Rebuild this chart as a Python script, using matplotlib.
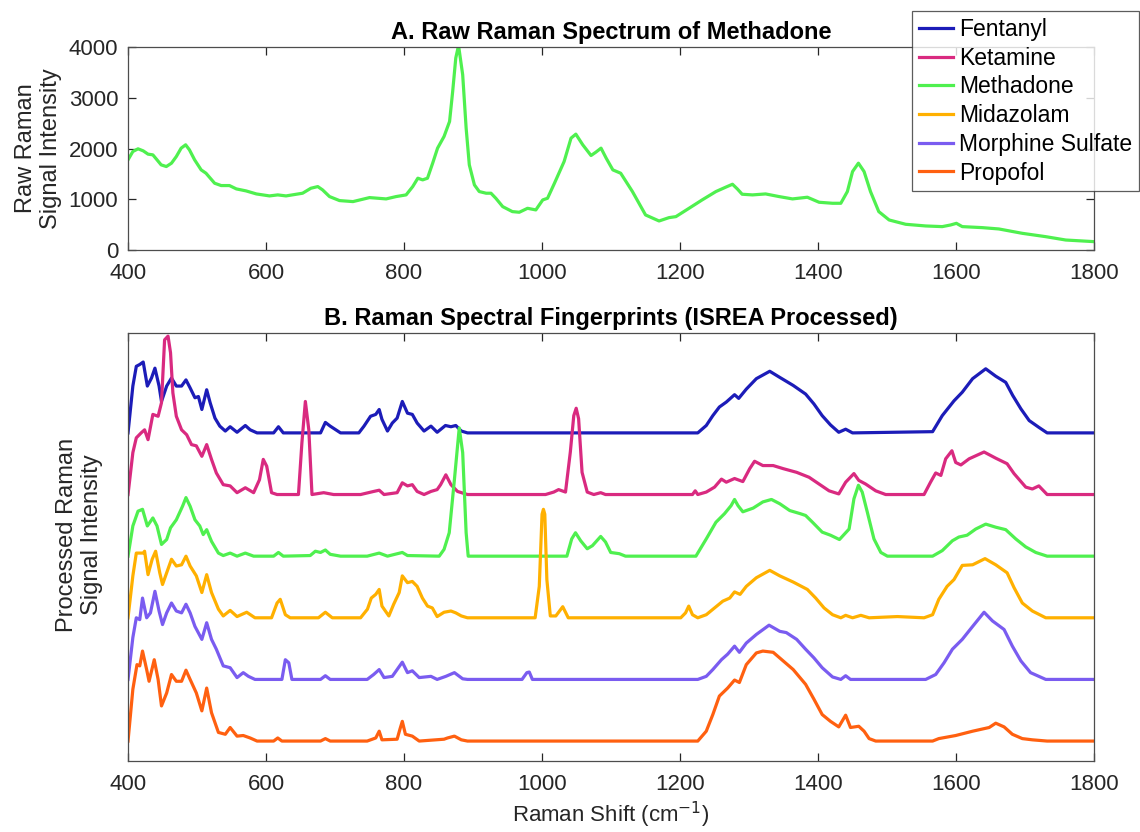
import numpy as np
import matplotlib
matplotlib.use("Agg")
import matplotlib.pyplot as plt

plt.rcParams['font.family'] = ['Liberation Sans', 'DejaVu Sans']

# raw methadone spectrum (panel A)
raw_x = [400, 407, 414.5, 422, 429, 436, 442, 448, 455.5, 463, 470, 477, 483.5, 489, 496.5,
         506, 513, 525.5, 535, 547, 557, 571, 586, 605, 617, 629, 653, 665, 675, 682, 692,
         706.5, 726, 740, 750, 762, 774, 788.5, 803, 812.6, 820, 827, 834, 841.5, 848.6, 858,
         866, 870.5, 875, 879, 885, 890, 894.6, 902, 909, 919, 926, 933, 943, 957, 967, 979,
         991, 1001, 1008, 1018, 1032, 1042, 1049, 1059, 1071, 1078, 1085.5, 1093, 1102.6, 1114,
         1131, 1150, 1169.6, 1184, 1194, 1213, 1232, 1252, 1266, 1276, 1283, 1290, 1305, 1324,
         1343.5, 1363, 1384.5, 1401.5, 1421, 1433, 1442.5, 1450, 1458.5, 1466.7, 1476, 1488,
         1503, 1527, 1556, 1580, 1592, 1600.5, 1609, 1638, 1662, 1696, 1730, 1759, 1800]
raw_y = [1777, 1941, 1994, 1954, 1889, 1875, 1777, 1678, 1645, 1711, 1842, 2007, 2073, 1974, 1777,
         1579, 1513, 1316, 1270, 1270, 1204, 1165, 1105, 1066, 1086, 1066, 1119, 1217, 1250, 1184, 1053,
         974, 954, 1000, 1033, 1020, 1007, 1053, 1086, 1250, 1415, 1382, 1415, 1711, 2007, 2237,
         2533, 3125, 3784, 4030, 3454, 2402, 1678, 1283, 1152, 1119, 1119, 1020, 855, 757, 744, 822,
         790, 987, 1020, 1316, 1744, 2204, 2283, 2073, 1862, 1928, 2007, 1809, 1579, 1513,
         1152, 691, 572, 638, 658, 822, 987, 1152, 1237, 1296, 1204, 1099, 1086, 1105,
         1053, 1007, 1040, 941, 921, 921, 1152, 1546, 1711, 1546, 1152, 757,
         592, 507, 474, 461, 493, 526, 461, 441, 415, 329, 263, 197, 165]

# processed fingerprints (panel B), height above each trace's own baseline
fent_x = [400, 407, 412, 417, 422, 428, 434, 439, 445, 448.5, 456, 463, 470, 477.6, 484, 490, 497,
          502, 507, 514, 519, 526, 533, 541, 548, 558, 570, 577, 587, 611, 618, 625, 679, 686, 693,
          708, 734.5, 742, 751.5, 759, 764, 768, 776, 783, 790, 797.5, 805, 812, 819, 829, 839, 848,
          860, 868, 875, 883, 892, 1225.7, 1238, 1247.5, 1257, 1267, 1279, 1285, 1296, 1310.6, 1330,
          1344.6, 1364, 1382, 1394, 1406, 1418, 1430, 1440, 1450, 1566, 1580, 1597, 1609, 1624,
          1643, 1657.5, 1672, 1682, 1694, 1706, 1720, 1732, 1800]
fent_y = [0, 0.76, 1.08, 1.11, 1.15, 0.76, 0.89, 1.05, 0.76, 0.51, 0.76, 0.89, 0.76, 0.76, 0.86, 0.73, 0.57,
          0.59, 0.38, 0.70, 0.49, 0.24, 0.11, 0.03, 0.10, 0.01, 0.12, 0.05, 0, 0, 0.10, 0, 0, 0.17, 0.11,
          0, 0, 0.11, 0.27, 0.30, 0.38, 0.22, 0.03, 0.16, 0.24, 0.51, 0.32, 0.30, 0.16, 0.03, 0.11, 0.01,
          0.12, 0.10, 0.12, 0.03, 0, 0, 0.12, 0.28, 0.42, 0.50, 0.62, 0.56, 0.71, 0.88, 1.0,
          0.90, 0.77, 0.63, 0.47, 0.28, 0.13, 0.01, 0.06, 0, 0.02, 0.28, 0.52, 0.66, 0.88,
          1.04, 0.92, 0.82, 0.61, 0.39, 0.20, 0.09, 0, 0]

keta_x = [400, 407, 412, 419, 424, 429, 436, 443.6, 448.5, 453, 458, 461.6, 465, 470, 477.6, 485, 492,
          499, 507, 514, 521, 528, 538, 548, 558, 570, 582, 590.5, 596, 601, 608, 616, 647, 652, 657,
          662, 666.6, 683.6, 698, 737, 756, 764, 771, 790, 797.5, 805, 812, 819, 829, 839, 848, 853,
          860.6, 868, 877.5, 892, 1005, 1017, 1024, 1034, 1041, 1046, 1049.5, 1053, 1058, 1065.5, 1075,
          1085, 1092, 1218, 1222, 1225.7, 1238, 1250, 1260, 1267, 1279, 1291, 1301, 1308, 1320, 1335,
          1349.5, 1369, 1387, 1401.5, 1416, 1430, 1440, 1452, 1459, 1469, 1483.6, 1498, 1553.6, 1563,
          1570.5, 1578, 1585, 1594, 1599.5, 1607, 1619, 1640.6, 1657.5, 1674, 1684, 1701, 1710.6,
          1720, 1732, 1800]
keta_y = [0, 0.68, 0.92, 1.0, 1.05, 0.89, 1.30, 1.27, 1.49, 2.51, 2.57, 2.30, 1.65, 1.27, 1.05, 0.97, 0.81,
          0.79, 0.62, 0.81, 0.57, 0.35, 0.16, 0.14, 0.03, 0.11, 0.03, 0.24, 0.57, 0.46, 0.03, 0, 0, 0.84, 1.51,
          1.05, 0, 0.03, 0, 0, 0.05, 0.07, 0, 0.03, 0.19, 0.14, 0.16, 0.05, 0, 0.05, 0.08, 0.16,
          0.32, 0.16, 0.05, 0, 0, 0.04, 0.08, 0.04, 0.69, 1.28, 1.40, 1.23, 0.36, 0.04, 0,
          0.03, 0, 0, 0.06, 0, 0.04, 0.12, 0.25, 0.20, 0.26, 0.21, 0.42, 0.54, 0.47, 0.47,
          0.42, 0.36, 0.28, 0.17, 0.06, 0.01, 0.20, 0.34, 0.23, 0.17, 0.06, 0, 0, 0.20,
          0.35, 0.31, 0.58, 0.71, 0.52, 0.48, 0.58, 0.69, 0.59, 0.50, 0.34, 0.12, 0.09,
          0.14, 0, 0]

meth_x = [400, 407, 414.5, 421, 428, 436, 442, 448.5, 456, 461.6, 470, 479, 484, 490, 497, 504, 509,
          514, 521, 531, 538, 548, 558, 570, 582, 611, 618, 625, 664, 671.5, 679, 686, 693, 708, 746.6,
          764, 776, 797.5, 805, 851, 858, 865.5, 873, 880, 885, 890, 893, 1036, 1043, 1048.5, 1056,
          1065.5, 1073, 1085, 1092, 1099.5, 1112, 1121, 1223, 1238, 1252, 1264.5, 1274, 1279, 1284,
          1291, 1306, 1320, 1332.5, 1344.6, 1359, 1374, 1382, 1392, 1406, 1418, 1431, 1445, 1452,
          1458.5, 1464, 1471.5, 1481, 1491, 1500.5, 1566, 1580, 1594.7, 1604, 1616, 1628.5, 1643,
          1657.5, 1672, 1686.5, 1701, 1715.5, 1732, 1800]
meth_y = [0, 0.49, 0.73, 0.76, 0.49, 0.62, 0.49, 0.19, 0.27, 0.46, 0.59, 0.81, 0.95, 0.81, 0.59, 0.49, 0.35,
          0.43, 0.24, 0.05, 0.01, 0.05, 0, 0.05, 0, 0, 0.06, 0, 0.01, 0.08, 0.06, 0.10, 0.03, 0, 0,
          0.05, 0, 0.06, 0.01, 0, 0.11, 0.38, 1.24, 2.08, 1.68, 0.38, 0, 0, 0.28, 0.38, 0.25,
          0.12, 0.17, 0.32, 0.23, 0.06, 0.04, 0, 0, 0.28, 0.55, 0.69, 0.82, 0.92, 0.82,
          0.72, 0.78, 0.88, 0.92, 0.85, 0.74, 0.69, 0.66, 0.55, 0.39, 0.34, 0.27, 0.44, 0.93,
          1.15, 1.04, 0.71, 0.28, 0.06, 0, 0, 0.09, 0.25, 0.31, 0.34, 0.44, 0.52,
          0.47, 0.43, 0.28, 0.15, 0.06, 0, 0]

mida_x = [400, 407, 412, 417, 422, 424, 429, 435, 440, 446, 450, 456, 463, 470, 477.6, 484, 490, 499,
          507, 514, 521, 531, 538, 548, 558, 572, 584, 608, 616, 620.6, 628, 635, 676, 686, 696, 737,
          747, 752.5, 759, 764, 768, 778, 785, 793, 797.5, 805, 812, 819, 826.6, 834, 841, 848, 858,
          868, 875, 883, 892, 990, 996, 1000, 1002, 1004, 1007, 1012, 1020, 1030, 1038, 1201, 1208,
          1212.6, 1218, 1225.7, 1238, 1250, 1262, 1272, 1279, 1287, 1296, 1310.6, 1330, 1344.6, 1364,
          1384.5, 1396.6, 1408.7, 1421, 1433, 1440, 1450, 1462, 1474, 1515, 1553.6, 1566, 1575, 1587,
          1597, 1609, 1624, 1642, 1657.5, 1674, 1684, 1696, 1710.6, 1730, 1800]
mida_y = [0, 0.68, 1.05, 1.05, 1.05, 1.08, 0.70, 0.95, 1.08, 0.73, 0.54, 0.73, 0.95, 0.84, 0.86, 1.0, 0.84, 0.68,
          0.41, 0.70, 0.41, 0.14, 0.03, 0.12, 0.02, 0.09, 0, 0, 0.24, 0.30, 0.05, 0, 0, 0.09, 0, 0,
          0.14, 0.32, 0.38, 0.46, 0.19, 0.03, 0.22, 0.41, 0.68, 0.57, 0.59, 0.51, 0.32, 0.19, 0.16, 0.02, 0.09,
          0.11, 0.08, 0.03, 0, 0, 0.51, 1.68, 1.76, 1.68, 0.62, 0.03, 0.03, 0.18, 0, 0, 0.08,
          0.19, 0.05, 0, 0.05, 0.16, 0.27, 0.32, 0.42, 0.38, 0.51, 0.65, 0.77, 0.68, 0.58,
          0.46, 0.32, 0.16, 0.05, 0, 0.04, 0, 0.04, 0, 0.02, 0, 0.05, 0.30, 0.51,
          0.62, 0.85, 0.86, 0.96, 0.86, 0.73, 0.49, 0.24, 0.11, 0, 0]

morph_x = [400, 407, 412, 417, 421, 427, 432.5, 439, 445, 450, 456, 463, 470, 477.6, 484, 490, 497,
           507, 514, 521, 528, 538, 548, 558, 567, 574.5, 584, 623, 628, 633, 637.5, 679, 686, 693,
           746.6, 756, 764, 771, 783, 797.5, 805, 812, 822, 839, 848, 860.6, 873, 885, 892, 971, 978,
           981.5, 986, 1225.7, 1238, 1247.5, 1260, 1269, 1279, 1286, 1296, 1310.6, 1329, 1344.6, 1354,
           1369, 1382, 1394, 1406, 1421, 1433, 1440, 1447, 1556, 1570.5, 1582.6, 1594.7, 1609, 1624,
           1640.6, 1652.7, 1669.6, 1681.6, 1694, 1708, 1730, 1800]
morph_y = [0, 0.68, 1.0, 0.97, 1.32, 1.0, 1.08, 1.43, 1.11, 0.89, 1.08, 1.24, 1.11, 1.08, 1.22, 1.08, 0.86,
           0.65, 0.92, 0.65, 0.49, 0.22, 0.19, 0.03, 0.11, 0.05, 0, 0, 0.32, 0.27, 0, 0, 0.06, 0,
           0, 0.08, 0.16, 0.03, 0.05, 0.28, 0.11, 0.14, 0.03, 0.05, 0, 0.05, 0.11, 0.01, 0, 0, 0.11,
           0.12, 0, 0, 0.05, 0.16, 0.32, 0.41, 0.54, 0.44, 0.59, 0.73, 0.88, 0.78, 0.76,
           0.65, 0.49, 0.35, 0.19, 0.04, 0, 0.06, 0, 0, 0.08, 0.27, 0.49, 0.65, 0.86,
           1.09, 0.95, 0.81, 0.54, 0.30, 0.11, 0, 0]

prop_x = [400, 407, 413, 417, 421, 427, 430.5, 438, 443.6, 448.5, 456, 463, 470, 477.6, 484, 490, 499,
          507, 514, 521, 531, 541, 548, 558, 567, 577, 587, 611, 617, 623, 679, 686, 693, 746.6, 759,
          764, 768, 790, 794, 797.5, 802, 812, 822, 858, 863, 873, 883, 892, 1225.7, 1238, 1247.5,
          1257, 1269, 1279, 1286, 1296, 1310.6, 1320, 1335, 1349.5, 1364, 1382, 1394, 1406, 1418,
          1430, 1440, 1447, 1459, 1466.7, 1474, 1483.6, 1566, 1575, 1599.5, 1624, 1648, 1657.5,
          1669.6, 1681.6, 1696, 1710.6, 1732, 1800]
prop_y = [0, 0.84, 1.24, 1.22, 1.46, 1.16, 0.97, 1.32, 1.0, 0.57, 0.78, 1.08, 0.97, 0.97, 1.15, 1.0, 0.78,
          0.49, 0.86, 0.46, 0.14, 0.11, 0.22, 0.08, 0.09, 0.05, 0, 0, 0.05, 0, 0, 0.04, 0, 0, 0.05,
          0.16, 0.02, 0.03, 0.19, 0.32, 0.11, 0.08, 0, 0.03, 0.05, 0.08, 0.02, 0, 0, 0.16, 0.43,
          0.73, 0.86, 0.99, 0.95, 1.24, 1.43, 1.46, 1.44, 1.30, 1.16, 0.92, 0.68, 0.43, 0.32,
          0.23, 0.42, 0.22, 0.24, 0.16, 0.04, 0, 0, 0.04, 0.09, 0.16, 0.22, 0.29,
          0.23, 0.11, 0.04, 0.02, 0, 0]

names = ['Fentanyl', 'Ketamine', 'Methadone', 'Midazolam', 'Morphine Sulfate', 'Propofol']
colors = ['#1c1cb8', '#d92a80', '#4ff04f', '#ffb000', '#7a5cf0', '#ff6010']
offsets = [5, 4, 3, 2, 1, 0]
spectra = [(fent_x, fent_y), (keta_x, keta_y), (meth_x, meth_y),
           (mida_x, mida_y), (morph_x, morph_y), (prop_x, prop_y)]

xticks = [400, 600, 800, 1000, 1200, 1400, 1600, 1800]
raw_yticks = [0, 1000, 2000, 3000, 4000]

fig = plt.figure(figsize=(11.4, 8.32), dpi=100)
ax1 = fig.add_axes([0.1123, 0.6995, 0.8474, 0.244])
ax2 = fig.add_axes([0.1123, 0.0853, 0.8474, 0.5144])

grey = '#262626'
for ax in (ax1, ax2):
    ax.set_xlim(400, 1800)
    ax.set_xticks(xticks)
    ax.tick_params(direction='in', length=6, width=0.9, top=True, right=True,
                   labelsize=16, colors=grey, pad=7)
    ax.tick_params(axis='x', pad=9)
    for s in ax.spines.values():
        s.set_color('#4d4d4d')
        s.set_linewidth(0.9)

# panel A
ax1.plot(raw_x, raw_y, color=colors[2], lw=2.3)
ax1.set_ylim(0, 4000)
ax1.set_yticks(raw_yticks)
ax1.set_title('A. Raw Raman Spectrum of Methadone', fontsize=17, fontweight='bold', pad=6)
ax1.set_ylabel('Raw Raman\nSignal Intensity', fontsize=17, color=grey)
ax1.yaxis.set_label_coords(-0.068, 0.5)

# panel B
lines = []
for (sx, sy), off, c, n in zip(spectra, offsets, colors, names):
    ln, = ax2.plot(sx, np.array(sy) + off, color=c, lw=2.3, label=n)
    lines.append(ln)
ax2.set_ylim(-0.324, 6.62)
ax2.set_yticks([])
ax2.tick_params(left=False, right=False)
ax2.set_title('B. Raman Spectral Fingerprints (ISREA Processed)', fontsize=17, fontweight='bold', pad=6)
ax2.set_ylabel('Processed Raman\nSignal Intensity', fontsize=17, color=grey)
ax2.yaxis.set_label_coords(-0.026, 0.528)
ax2.set_xlabel('Raman Shift (cm$^{-1}$)', fontsize=16, color=grey, labelpad=4)

leg = fig.legend(handles=lines, loc='upper left', bbox_to_anchor=(912 / 1140, 1 - 11 / 832),
                 fontsize=16.5, frameon=True, fancybox=False, handlelength=1.5,
                 handletextpad=0.25, labelspacing=0.25, borderpad=0.3, borderaxespad=0)
leg.get_frame().set_edgecolor('#333333')
leg.get_frame().set_linewidth(0.9)

fig.savefig('out.png', dpi=100)
